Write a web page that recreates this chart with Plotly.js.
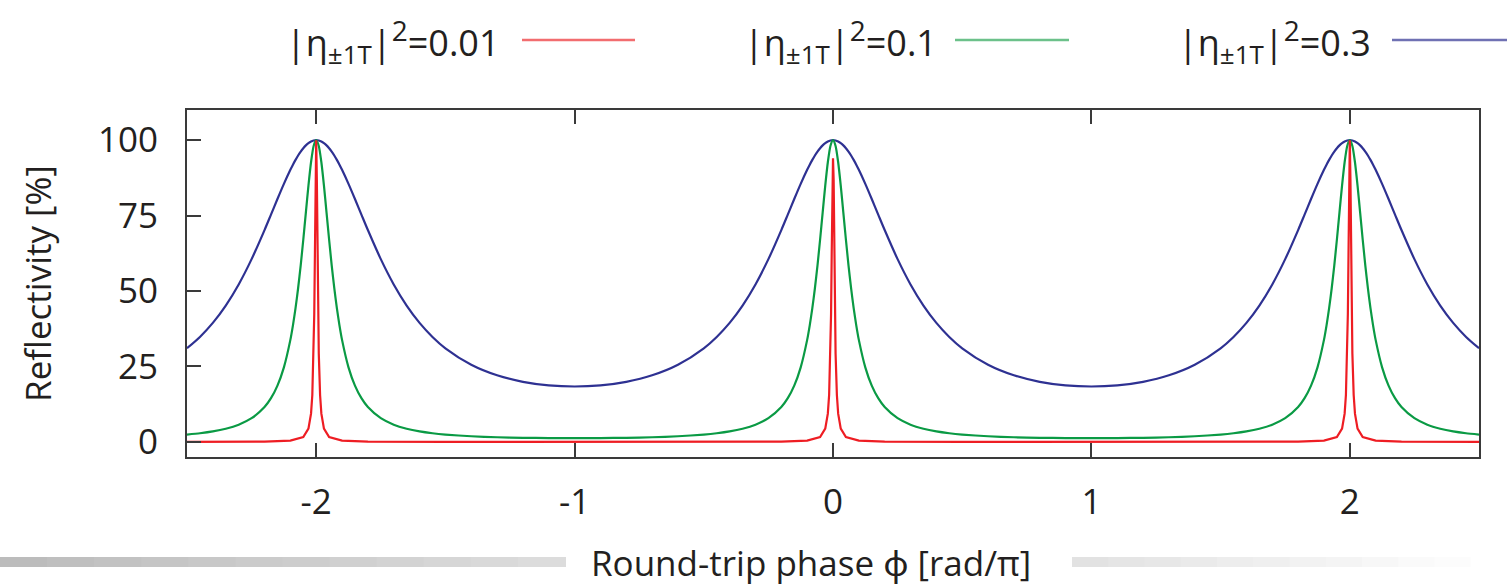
<!DOCTYPE html>
<html>
<head>
<meta charset="utf-8">
<script src="https://cdn.plot.ly/plotly-3.0.1.min.js"></script>
<style>html,body{margin:0;padding:0;background:#fff;}#chart{width:1507px;height:585px;}</style>
</head>
<body>
<div id="chart"></div>
<script>
// Round-trip phase (rad/pi) sampling for the two broad curves
const phase = [
 -2.5,-2.45,-2.4,-2.35,-2.3,-2.25,-2.2,-2.175,-2.15,-2.125,-2.1,-2.09,-2.08,-2.07,-2.06,-2.05,-2.04,-2.03,-2.02,-2.01,-2,
 -1.99,-1.98,-1.97,-1.96,-1.95,-1.94,-1.93,-1.92,-1.91,-1.9,-1.875,-1.85,-1.825,-1.8,-1.75,-1.7,-1.65,-1.6,-1.55,-1.5,-1.4,-1.3,-1.2,-1.1,-1,
 -0.9,-0.8,-0.7,-0.6,-0.5,-0.45,-0.4,-0.35,-0.3,-0.25,-0.2,-0.175,-0.15,-0.125,-0.1,-0.09,-0.08,-0.07,-0.06,-0.05,-0.04,-0.03,-0.02,-0.01,0,
 0.01,0.02,0.03,0.04,0.05,0.06,0.07,0.08,0.09,0.1,0.125,0.15,0.175,0.2,0.25,0.3,0.35,0.4,0.45,0.5,0.6,0.7,0.8,0.9,1,
 1.1,1.2,1.3,1.4,1.5,1.55,1.6,1.65,1.7,1.75,1.8,1.825,1.85,1.875,1.9,1.91,1.92,1.93,1.94,1.95,1.96,1.97,1.98,1.99,2,
 2.01,2.02,2.03,2.04,2.05,2.06,2.07,2.08,2.09,2.1,2.125,2.15,2.175,2.2,2.25,2.3,2.35,2.4,2.45,2.5
];
// |eta|^2 = 0.3 (blue)
const refl03 = [
 31.03,34.79,39.44,45.18,52.19,60.57,70.21,75.33,80.50,85.53,90.19,91.89,93.47,94.92,96.21,97.34,98.28,99.02,99.56,99.89,100,
 99.89,99.56,99.02,98.28,97.34,96.21,94.92,93.47,91.89,90.19,85.53,80.50,75.33,70.21,60.57,52.19,45.18,39.44,34.79,31.03,25.58,22.08,19.92,18.74,18.37,
 18.74,19.92,22.08,25.58,31.03,34.79,39.44,45.18,52.19,60.57,70.21,75.33,80.50,85.53,90.19,91.89,93.47,94.92,96.21,97.34,98.28,99.02,99.56,99.89,100,
 99.89,99.56,99.02,98.28,97.34,96.21,94.92,93.47,91.89,90.19,85.53,80.50,75.33,70.21,60.57,52.19,45.18,39.44,34.79,31.03,25.58,22.08,19.92,18.74,18.37,
 18.74,19.92,22.08,25.58,31.03,34.79,39.44,45.18,52.19,60.57,70.21,75.33,80.50,85.53,90.19,91.89,93.47,94.92,96.21,97.34,98.28,99.02,99.56,99.89,100,
 99.89,99.56,99.02,98.28,97.34,96.21,94.92,93.47,91.89,90.19,85.53,80.50,75.33,70.21,60.57,52.19,45.18,39.44,34.79,31.03
];
// |eta|^2 = 0.1 (green)
const refl01 = [
 2.44,2.88,3.49,4.38,5.72,7.86,11.57,14.50,18.66,24.72,33.81,38.64,44.31,50.93,58.53,67.00,76.02,84.93,92.68,98.06,100,
 98.06,92.68,84.93,76.02,67.00,58.53,50.93,44.31,38.64,33.81,24.72,18.66,14.50,11.57,7.86,5.72,4.38,3.49,2.88,2.44,1.87,1.55,1.36,1.27,1.23,
 1.27,1.36,1.55,1.87,2.44,2.88,3.49,4.38,5.72,7.86,11.57,14.50,18.66,24.72,33.81,38.64,44.31,50.93,58.53,67.00,76.02,84.93,92.68,98.06,100,
 98.06,92.68,84.93,76.02,67.00,58.53,50.93,44.31,38.64,33.81,24.72,18.66,14.50,11.57,7.86,5.72,4.38,3.49,2.88,2.44,1.87,1.55,1.36,1.27,1.23,
 1.27,1.36,1.55,1.87,2.44,2.88,3.49,4.38,5.72,7.86,11.57,14.50,18.66,24.72,33.81,38.64,44.31,50.93,58.53,67.00,76.02,84.93,92.68,98.06,100,
 98.06,92.68,84.93,76.02,67.00,58.53,50.93,44.31,38.64,33.81,24.72,18.66,14.50,11.57,7.86,5.72,4.38,3.49,2.88,2.44
];
// |eta|^2 = 0.01 (red), sampled more finely around the narrow peaks
const phaseNarrow = [
 -2.5,-2.2,-2.1,-2.05,-2.03,-2.02,-2.015,-2.01,-2.0075,-2.005,-2.0025,-2,
 -1.9975,-1.995,-1.9925,-1.99,-1.985,-1.98,-1.97,-1.95,-1.9,-1.8,
 -1.5,-1,-0.5,
 -0.2,-0.1,-0.05,-0.03,-0.02,-0.015,-0.01,-0.0075,-0.005,-0.0025,0,
 0.0025,0.005,0.0075,0.01,0.015,0.02,0.03,0.05,0.1,0.2,
 0.5,1,1.5,
 1.8,1.9,1.95,1.97,1.98,1.985,1.99,1.9925,1.995,1.9975,2,
 2.0025,2.005,2.0075,2.01,2.015,2.02,2.03,2.05,2.1,2.2,2.5
];
const refl001 = [
 0.02,0.11,0.41,1.63,4.40,9.37,15.53,29.26,42.37,62.32,86.87,100,
 86.87,62.32,42.37,29.26,15.53,9.37,4.40,1.63,0.41,0.11,
 0.02,0.01,0.02,
 0.11,0.41,1.63,4.40,9.37,15.53,29.26,42.37,62.32,86.87,94,
 86.87,62.32,42.37,29.26,15.53,9.37,4.40,1.63,0.41,0.11,
 0.02,0.01,0.02,
 0.11,0.41,1.63,4.40,9.37,15.53,29.26,42.37,62.32,86.87,100,
 86.87,62.32,42.37,29.26,15.53,9.37,4.40,1.63,0.41,0.11,0.02
];
const seriesValues = ['0.01','0.1','0.3'];
const xTickVals = [-2,-1,0,1,2];
const xTickText = ['-2','-1','0','1','2'];
const yTickVals = [0,25,50,75,100];
const yTickText = ['0','25','50','75','100'];

const seriesNames = seriesValues.map(v =>
  '|η<sub><span style="font-size:26px">±1T</span></sub>|<sup><span style="font-size:28px">2</span></sup>=' + v);

const colors = ['#ee1d23','#0a9a44','#2e3192'];
const legendColors = ['#f26d6f','#6cc18a','#6f71b3'];
const FONT = 'Open Sans, Noto Sans, sans-serif';

const traces = [
  {x: phaseNarrow, y: refl001, mode:'lines', line:{color:colors[0], width:2.2}, name:seriesNames[0], hoverinfo:'skip'},
  {x: phase, y: refl01, mode:'lines', line:{color:colors[1], width:2.2, shape:'spline', smoothing:0.6}, name:seriesNames[1], hoverinfo:'skip'},
  {x: phase, y: refl03, mode:'lines', line:{color:colors[2], width:2.2, shape:'spline', smoothing:0.8}, name:seriesNames[2], hoverinfo:'skip'}
];
// draw order: blue under green under red
const ordered = [traces[2], traces[1], traces[0]];

// Legend (text left, sample line right), positioned in paper coordinates
const L = 187, W = 1292, T = 110, H = 347;
const px = v => (v - L) / W;
const py = v => (T + H - v) / H;
const legendTextX = [284, 742, 1176];
const legendLineX = [[522,635],[955,1069],[1392,1520]];
const legendY = 40;

const annotations = [];
const shapes = [];
for (let i = 0; i < 3; i++) {
  annotations.push({xref:'paper', yref:'paper', x:px(legendTextX[i]), y:py(legendY+1), xanchor:'left', yanchor:'middle',
    text:seriesNames[i], showarrow:false, font:{family:FONT, size:36, color:'#231f20'}});
  shapes.push({type:'line', xref:'paper', yref:'paper', x0:px(legendLineX[i][0]), x1:px(legendLineX[i][1]),
    y0:py(legendY), y1:py(legendY), line:{color:legendColors[i], width:2.5}});
}
// x-axis title
annotations.push({xref:'paper', yref:'paper', x:px(811), y:py(562), xanchor:'center', yanchor:'middle',
  text:'Round-trip phase ϕ [rad/π]', showarrow:false, font:{family:FONT, size:35, color:'#231f20'}});

// decorative gray bars beside the x title
const segs = 12;
for (let s = 0; s < segs; s++) {
  const a = 565 * s / segs, b = 565 * (s + 1) / segs + 1;
  const g = Math.round(188 + 32 * s / (segs - 1));
  shapes.push({type:'rect', xref:'paper', yref:'paper', x0:px(a), x1:px(b), y0:py(567), y1:py(557),
    line:{width:0}, fillcolor:`rgb(${g},${g},${g})`, layer:'below'});
  const c = 1072 + (1507 - 1072) * s / segs, d = 1072 + (1507 - 1072) * (s + 1) / segs + 1;
  const h = Math.round(226 + 29 * s / (segs - 1));
  shapes.push({type:'rect', xref:'paper', yref:'paper', x0:px(c), x1:px(d), y0:py(567), y1:py(557),
    line:{width:0}, fillcolor:`rgb(${h},${h},${h})`, layer:'below'});
}

const layout = {
  width:1507, height:585,
  margin:{l:187, r:28, t:110, b:128},
  paper_bgcolor:'#ffffff', plot_bgcolor:'#ffffff',
  showlegend:false,
  font:{family:FONT, color:'#231f20'},
  xaxis:{range:[-2.5,2.5], tickvals:xTickVals, ticktext:xTickText, ticks:'inside', ticklen:14, tickwidth:2, tickcolor:'#3a3a3a',
    showline:true, linewidth:2, linecolor:'#3a3a3a', mirror:'ticks', showgrid:false, zeroline:false,
    tickfont:{family:FONT, size:35, color:'#231f20'}, ticklabelstandoff:13, fixedrange:true},
  yaxis:{range:[-5,110], tickvals:yTickVals, ticktext:yTickText, ticks:'inside', ticklen:14, tickwidth:2, tickcolor:'#3a3a3a',
    showline:true, linewidth:2, linecolor:'#3a3a3a', mirror:true, showgrid:false, zeroline:false,
    tickfont:{family:FONT, size:35, color:'#231f20'}, ticklabelstandoff:20,
    title:{text:'Reflectivity [%]', font:{family:FONT, size:35, color:'#231f20'}, standoff:36}, automargin:false, fixedrange:true},
  annotations:annotations,
  shapes:shapes
};

Plotly.newPlot('chart', ordered, layout, {displayModeBar:false, staticPlot:true});
</script>
</body>
</html>
